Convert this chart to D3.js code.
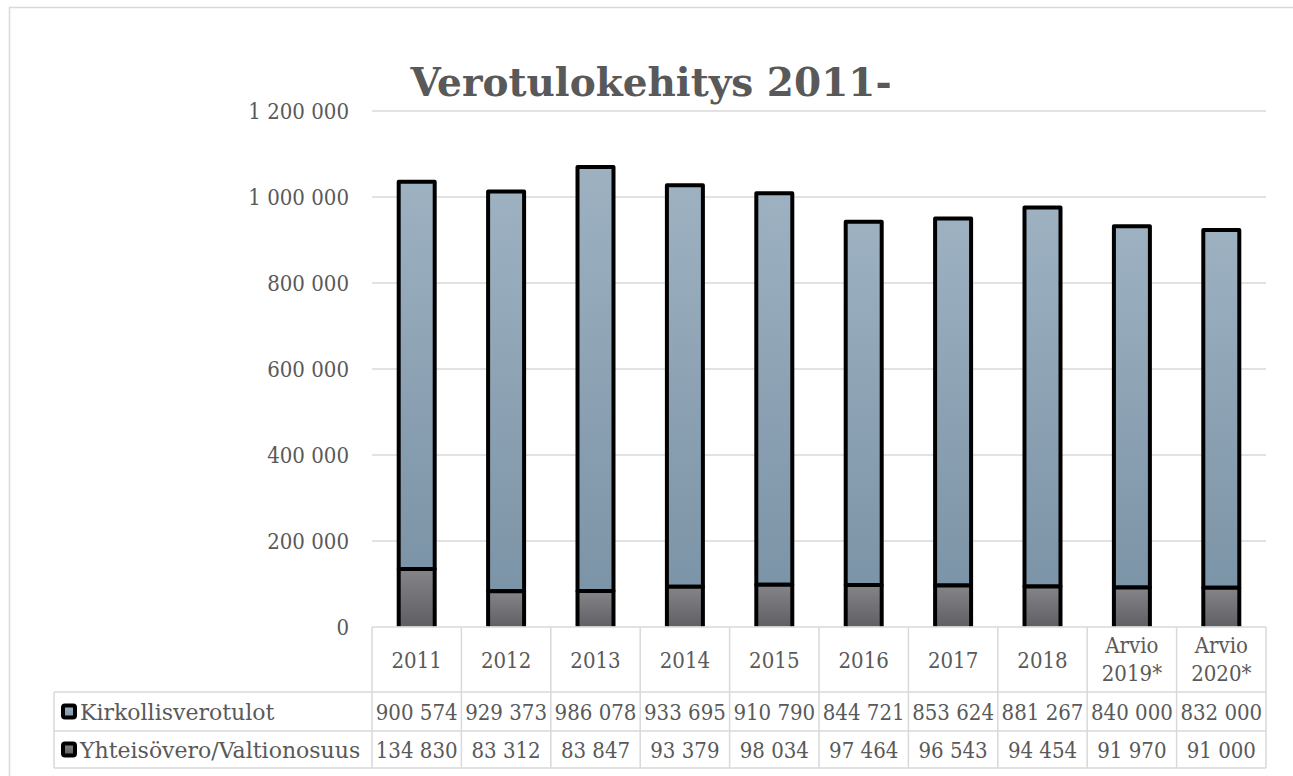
<!DOCTYPE html>
<html><head><meta charset="utf-8">
<script src="https://cdn.jsdelivr.net/npm/d3@7"></script>
<style>
html,body{margin:0;padding:0;background:#fff;}
svg{display:block;}
text{font-family:"DejaVu Serif","Liberation Serif",serif;fill:#595959;}
text.num{font-family:"DejaVu Serif Condensed","DejaVu Serif",serif;font-stretch:condensed;}
</style></head>
<body>
<svg id="chart" width="1293" height="776"></svg>
<script>
const categories = ["2011","2012","2013","2014","2015","2016","2017","2018","Arvio 2019*","Arvio 2020*"];
const seriesNames = ["Kirkollisverotulot","Yhteisövero/Valtionosuus"];
const kirkollisvero = [900574,929373,986078,933695,910790,844721,853624,881267,840000,832000];
const yhteisovero = [134830,83312,83847,93379,98034,97464,96543,94454,91970,91000];
const yTicks = [0,200000,400000,600000,800000,1000000,1200000];
const chartTitle = "Verotulokehitys 2011-";

const svg = d3.select("#chart");
const W = 1293, H = 776;
const pLeft = 372, pRight = 1266, pTop = 111, pBottom = 627;
const row1 = 692, row2 = 731, row3 = 768, legendLeft = 54;

const fmt = d3.formatLocale({decimal:",", thousands:" ", grouping:[3], currency:["","€"]}).format(",d");

// outer border
svg.append("rect").attr("x",9.5).attr("y",7.5).attr("width",W+10).attr("height",H+10)
  .attr("fill","#fff").attr("stroke","#d9d9d9").attr("stroke-width",1.5);

// gradients
const defs = svg.append("defs");
function grad(id, c1, c2){
  const g = defs.append("linearGradient").attr("id",id).attr("x1",0).attr("y1",0).attr("x2",0).attr("y2",1);
  g.append("stop").attr("offset","0%").attr("stop-color",c1);
  g.append("stop").attr("offset","100%").attr("stop-color",c2);
}
grad("gTop","#9db1c1","#7c94a7");
grad("gBot","#858488","#5c5b60");
defs.append("clipPath").attr("id","plotClip").append("rect")
  .attr("x",pLeft).attr("y",0).attr("width",pRight-pLeft).attr("height",pBottom-0.5);

const x = d3.scaleBand().domain(categories).range([pLeft,pRight]).paddingInner(0).paddingOuter(0);
const y = d3.scaleLinear().domain([0,1200000]).range([pBottom,pTop]);

// title
svg.append("text").attr("x",651).attr("y",96).attr("text-anchor","middle")
  .style("font-size","39px").style("font-weight","bold").text(chartTitle);

// gridlines
svg.append("g").selectAll("line").data(yTicks.filter(d=>d>0)).join("line")
  .attr("x1",pLeft).attr("x2",pRight).attr("y1",d=>y(d)).attr("y2",d=>y(d))
  .attr("stroke","#d9d9d9").attr("stroke-width",1.5);

// y labels
svg.append("g").selectAll("text").data(yTicks).join("text").attr("class","num")
  .attr("x",349).attr("y",d=>y(d)+8).attr("text-anchor","end")
  .style("font-size","22px").text(d=>fmt(d));

// bars
const bw = 36;
const stacked = categories.map((c,i)=>({c, k:kirkollisvero[i], yh:yhteisovero[i]}));
const bars = svg.append("g").attr("clip-path","url(#plotClip)");
bars.selectAll("rect.k").data(stacked).join("rect").attr("class","k")
  .attr("x",d=>x(d.c)+x.bandwidth()/2-bw/2).attr("width",bw)
  .attr("y",d=>y(d.k+d.yh)).attr("height",d=>y(d.yh)-y(d.k+d.yh))
  .attr("fill","url(#gTop)").attr("stroke","#000").attr("stroke-width",4).attr("stroke-linejoin","round");
bars.selectAll("rect.y").data(stacked).join("rect").attr("class","y")
  .attr("x",d=>x(d.c)+x.bandwidth()/2-bw/2).attr("width",bw)
  .attr("y",d=>y(d.yh)).attr("height",d=>y(0)-y(d.yh)+4)
  .attr("fill","url(#gBot)").attr("stroke","#000").attr("stroke-width",4).attr("stroke-linejoin","round");

// data table
const tbl = svg.append("g");
const lc = "#d9d9d9";
function hl(x1,x2,yy){tbl.append("line").attr("x1",x1).attr("x2",x2).attr("y1",yy).attr("y2",yy).attr("stroke",lc).attr("stroke-width",1.5);}
function vl(xx,y1,y2){tbl.append("line").attr("x1",xx).attr("x2",xx).attr("y1",y1).attr("y2",y2).attr("stroke",lc).attr("stroke-width",1.5);}
hl(pLeft,pRight,pBottom);
hl(legendLeft,pRight,row1);
hl(legendLeft,pRight,row2);
hl(legendLeft,pRight,row3);
vl(legendLeft,row1,row3);
categories.forEach(c=>vl(x(c),pBottom,row3));
vl(pRight,pBottom,row3);

// header labels
const hdr = tbl.selectAll("text.h").data(categories).join("text").attr("class","h num")
  .attr("text-anchor","middle").style("font-size","22px");
hdr.each(function(d){
  const t = d3.select(this);
  const parts = d.split(" ");
  const cx = x(d)+x.bandwidth()/2;
  if(parts.length===1){
    t.append("tspan").attr("x",cx).attr("y",668).text(d);
  } else {
    t.append("tspan").attr("x",cx).attr("y",653).text(parts[0]);
    t.append("tspan").attr("x",cx).attr("y",681).text(parts[1]);
  }
});

// rows
const rows = [{name:seriesNames[0], vals:kirkollisvero, fill:"url(#gTop)", y0:row1, y1:row2},
              {name:seriesNames[1], vals:yhteisovero, fill:"url(#gBot)", y0:row2, y1:row3}];
rows.forEach(r=>{
  const cy = (r.y0+r.y1)/2;
  tbl.append("rect").attr("x",63).attr("y",cy-6).attr("width",12).attr("height",12).attr("rx",2)
    .attr("fill",r.fill).attr("stroke","#000").attr("stroke-width",4);
  tbl.append("text").attr("x",80).attr("y",cy+8).style("font-size","22px").text(r.name);
  tbl.selectAll(null).data(r.vals).join("text").attr("class","num")
    .attr("x",(d,i)=>x(categories[i])+x.bandwidth()/2).attr("y",cy+8)
    .attr("text-anchor","middle").style("font-size","22px").text(d=>fmt(d));
});
</script>
</body></html>
